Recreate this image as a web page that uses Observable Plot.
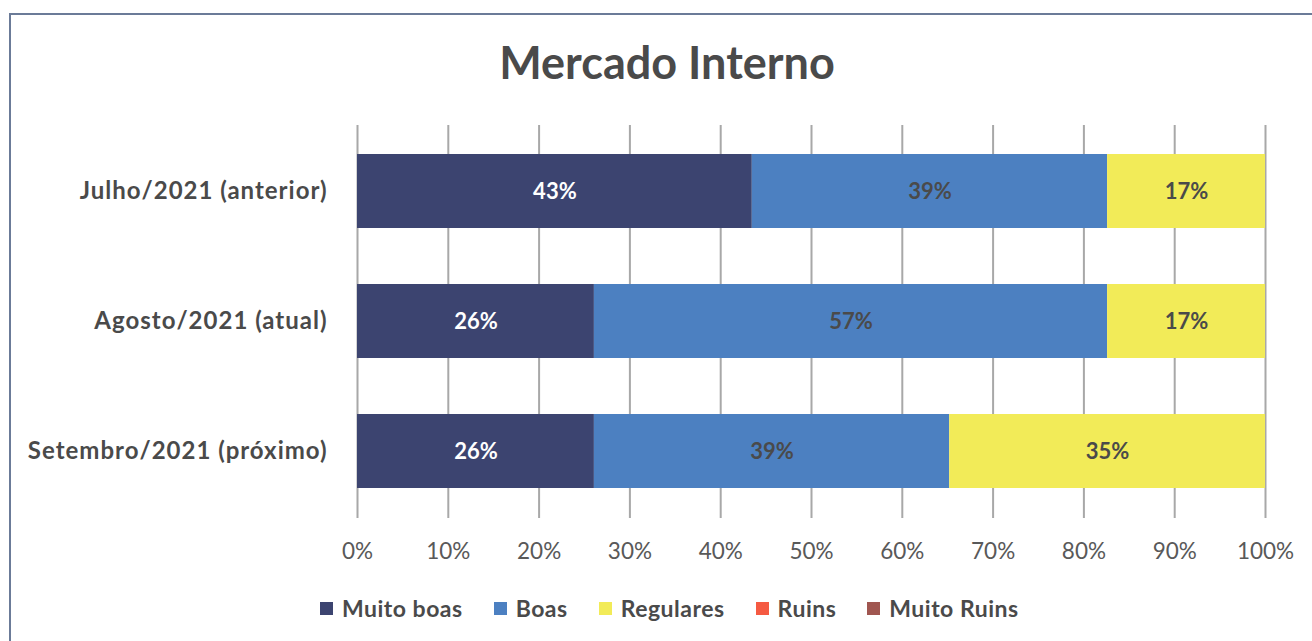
<!DOCTYPE html>
<html>
<head>
<meta charset="utf-8">
<script src="https://cdn.jsdelivr.net/npm/d3@7"></script>
<script src="https://cdn.jsdelivr.net/npm/@observablehq/plot@0.6"></script>
<style>
  html, body { margin: 0; padding: 0; background: #fff; overflow: hidden; }
  #wrap { position: relative; width: 1312px; height: 641px; font-family: Lato, "Open Sans", sans-serif; }
  #border { position: absolute; left: 9px; top: 13px; width: 1330px; height: 660px; border: 2px solid #6b7b98; box-sizing: border-box; }
  #title { position: absolute; left: 0; width: 1334px; top: 35px; text-align: center; font-size: 45px; font-weight: bold; color: #4a4a4a; }
  #chart { position: absolute; left: 0; top: 0; }
  #legend { position: absolute; left: 320px; top: 594px; display: flex; gap: 31px; font-size: 23px; font-weight: bold; color: #4a4a4a; letter-spacing: 0.5px; white-space: nowrap; }
  #legend .item { display: flex; align-items: center; gap: 9px; }
  #legend .sw { width: 13px; height: 13px; display: inline-block; }
</style>
</head>
<body>
<div id="wrap">
  <div id="border"></div>
  <div id="title">Mercado Interno</div>
  <div id="chart"></div>
  <div id="legend"></div>
</div>
<script>
const categories = ["Julho/2021 (anterior)", "Agosto/2021 (atual)", "Setembro/2021 (próximo)"];
const seriesNames = ["Muito boas", "Boas", "Regulares", "Ruins", "Muito Ruins"];
const seriesColors = ["#3c4470", "#4c80c1", "#f2eb58", "#f55a42", "#a05650"];
const labelColors = ["#ffffff", "#4a4a4a", "#4a4a4a", "#4a4a4a", "#ffffff"];
const muitoBoas = [43.48, 26.09, 26.09];
const boas = [39.13, 56.52, 39.13];
const regulares = [17.39, 17.39, 34.78];
const ruins = [0, 0, 0];
const muitoRuins = [0, 0, 0];
const xTicks = [0, 10, 20, 30, 40, 50, 60, 70, 80, 90, 100];

const seriesValues = [muitoBoas, boas, regulares, ruins, muitoRuins];
const data = [];
seriesNames.forEach((s, si) => {
  categories.forEach((c, ci) => {
    data.push({category: c, series: s, value: seriesValues[si][ci], labelColor: labelColors[si]});
  });
});
const nonzero = data.filter(d => d.value > 0);

const chart = Plot.plot({
  width: 1312,
  height: 580,
  marginTop: 125,
  marginBottom: 62,
  marginLeft: 357,
  marginRight: 47,
  style: {fontFamily: "Lato, 'Open Sans', sans-serif", background: "transparent"},
  x: {domain: [0, 100], ticks: xTicks, tickFormat: d => d + "%", label: null},
  y: {domain: categories, paddingInner: 0.427, paddingOuter: 0.214, label: null},
  color: {domain: seriesNames, range: seriesColors},
  marks: [
    Plot.gridX(xTicks, {stroke: "#a8a8a8", strokeOpacity: 1, strokeWidth: 2}),
    Plot.barX(data, Plot.stackX({x: "value", y: "category", fill: "series", order: seriesNames})),
    Plot.text(nonzero, Plot.stackX({x: "value", y: "category", z: "series", order: seriesNames,
      text: d => Math.round(d.value) + "%", fill: "labelColor", fontSize: 22, fontWeight: "bold",
      style: "letter-spacing: 0.5px"})),
    Plot.axisX({ticks: xTicks, tickFormat: d => d + "%", tickSize: 0, tickPadding: 25, fontSize: 22.5, color: "#595959", label: null}),
    Plot.axisY({tickSize: 0, tickPadding: 30, fontSize: 24, fontWeight: "bold", color: "#4a4a4a", label: null})
  ]
});
chart.querySelectorAll("g[aria-label='y-axis tick label'] text").forEach(t => t.style.letterSpacing = "1px");
document.getElementById("chart").appendChild(chart);

const legend = document.getElementById("legend");
seriesNames.forEach((s, i) => {
  const item = document.createElement("div");
  item.className = "item";
  const sw = document.createElement("span");
  sw.className = "sw";
  sw.style.background = seriesColors[i];
  const t = document.createElement("span");
  t.textContent = s;
  item.appendChild(sw);
  item.appendChild(t);
  legend.appendChild(item);
});
</script>
</body>
</html>
